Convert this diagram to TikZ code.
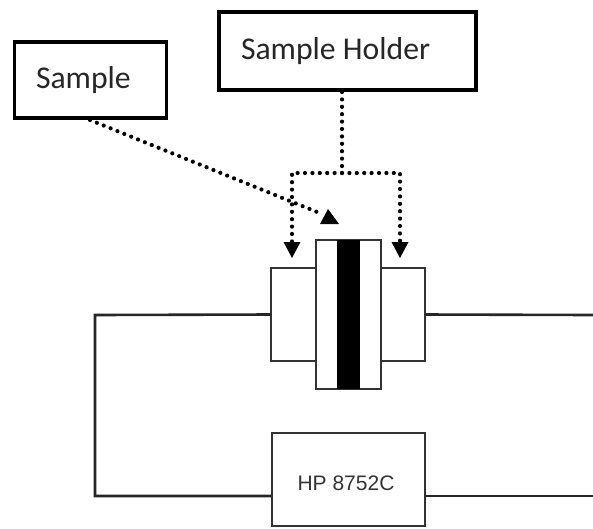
\documentclass[tikz,border=0pt]{standalone}
\usepackage{fontspec}
\setmainfont{Carlito}
\newfontfamily\hpfont{Liberation Sans}
\usetikzlibrary{arrows.meta,positioning}
\tikzset{
  every node/.style={outer sep=0pt},
  labelbox/.style={draw=black,line width=3.8pt,fill=white,inner sep=0pt},
  labeltext/.style={font=\fontsize{31.7}{36}\selectfont,text=black!85,anchor=base west,inner sep=0pt},
  block/.style={draw=black!80,line width=2.4pt,fill=white,inner sep=0pt},
  wire/.style={draw=black!85,line width=2.6pt},
  dots/.style={line width=4.2pt,line cap=round,dash pattern=on 0pt off 7.4pt,draw=black},
  dotarrow/.style={dots,-{Triangle[length=16pt,width=17pt,line width=0pt,sep=0pt]}},
}
\newcommand{\pxbox}[7][]{\node[#2,minimum width=#5pt,minimum height=#6pt,anchor=north west,#1] (#3) at #4 {#7};}
\begin{document}
\begin{tikzpicture}[x=1pt,y=-1pt]
\useasboundingbox (0,0) rectangle (593,528);
% label boxes
\pxbox{labelbox}{sample}{(14.5,42)}{152}{76}{}
\pxbox{labelbox}{holder}{(219,12)}{257}{78}{}
\node[labeltext] (sampletxt) at (36,88) {Sample};
\node[labeltext] (holdertxt) at (241,59) {Sample Holder};
% apparatus
\pxbox{block}{left}{(271,268)}{50}{93}{}
\pxbox{block}{right}{(376,268)}{49}{93}{}
\pxbox{block}{middle}{(316,240)}{65}{149}{}
\node[fill=black,inner sep=0pt,minimum width=23pt,minimum height=149pt,anchor=north west] (disc) at (336.5,240) {};
\pxbox{block}{hp}{(272,433)}{153}{93}{}
\node[font=\hpfont\fontsize{21}{24}\selectfont,text=black!80,inner sep=0pt] (hptxt) at (346,483) {HP 8752C};
% wires
\coordinate (lcorner) at (95,315);
\coordinate (bcorner) at (95,496);
\coordinate (redge) at (593,315);
\coordinate (redgeb) at (593,496);
\draw[wire] (left.west) -- (lcorner) -- (bcorner) -- (hp.west |- bcorner);
\draw[wire] (right.east) -- (redge);
\draw[wire] (hp.east |- redgeb) -- (redgeb);
% dotted connectors
\coordinate (hfoot) at (342,92);
\coordinate (hjoin) at (342,173);
\coordinate (hl) at (292,173);
\coordinate (hr) at (400,173);
\coordinate (tl) at (292,258);
\coordinate (tr) at (400,258);
\draw[dots] (hfoot) -- (hjoin);
\draw[dotarrow] (hjoin) -- (hl) -- (tl);
\draw[dotarrow] (hjoin) -- (hr) -- (tr);
\coordinate (sfoot) at (90,120);
\coordinate (send) at (322,214);
\draw[dots] (sfoot) -- (send);
\fill[black] (320,224) -- (339,224) -- (328,209) -- cycle;
\end{tikzpicture}
\end{document}
